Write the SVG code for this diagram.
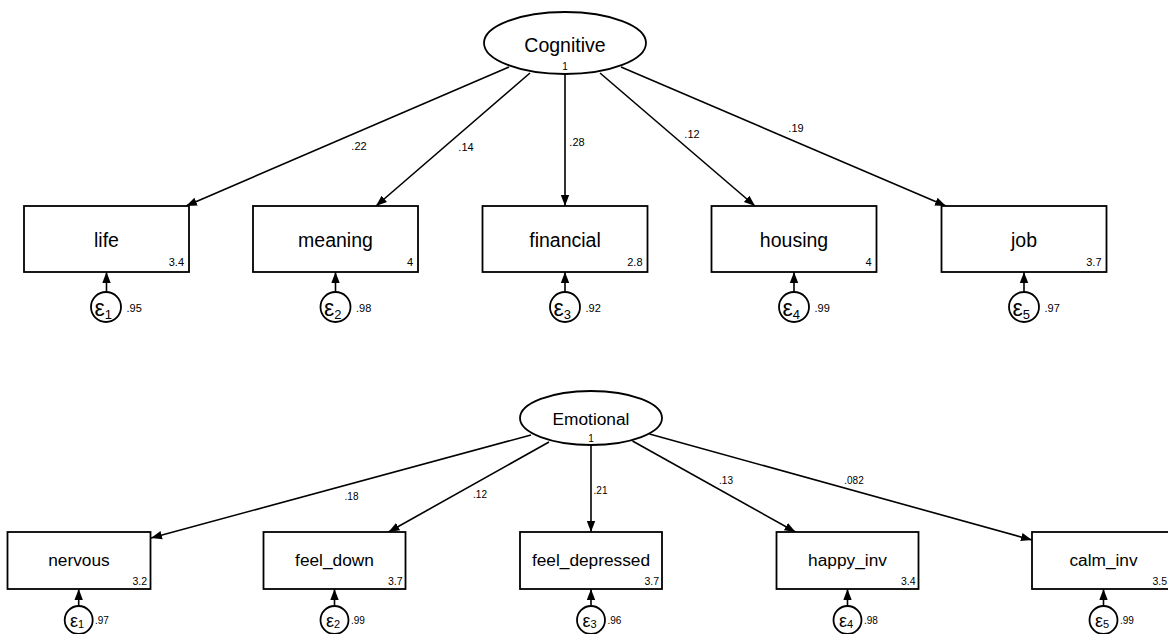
<svg xmlns="http://www.w3.org/2000/svg" width="1168" height="634" viewBox="0 0 1168 634">
<defs>
<marker id="ah" markerUnits="userSpaceOnUse" markerWidth="12" markerHeight="10" viewBox="0 0 12 10" refX="11" refY="5" orient="auto">
<path d="M0,0.8 L11,5 L0,9.2 Z" fill="#000"/>
</marker>
<style>
text{font-family:"Liberation Sans",Arial,sans-serif;fill:#000}
.box{fill:#fff;stroke:#000;stroke-width:1.8}
.lat{fill:#fff;stroke:#000;stroke-width:1.8}
.err{fill:#fff;stroke:#000;stroke-width:1.8}
.c{stroke:#000;stroke-width:1.6;fill:none;marker-end:url(#ah)}
.lt{font-size:19.5px;text-anchor:middle}
.lb{font-size:17.3px;text-anchor:middle}
.vt{font-size:11px;text-anchor:end}
.vb{font-size:10.5px;text-anchor:end}
.pt{font-size:11px;text-anchor:middle}
.pb{font-size:10px;text-anchor:middle}
.et{font-size:23px}
.eb{font-size:18px}
.ev1{font-size:11px}
.ev2{font-size:10px}
</style>
</defs>
<g id="connectors">
<line class="c" x1="509" y1="67" x2="186" y2="206"/>
<line class="c" x1="530" y1="73" x2="376" y2="206"/>
<line class="c" x1="565" y1="74" x2="565" y2="206"/>
<line class="c" x1="600" y1="73" x2="755" y2="206"/>
<line class="c" x1="621" y1="67" x2="946" y2="206"/>
<line class="c" x1="106.5" y1="292" x2="106.5" y2="272"/>
<line class="c" x1="335.5" y1="292" x2="335.5" y2="272"/>
<line class="c" x1="565" y1="292" x2="565" y2="272"/>
<line class="c" x1="794" y1="292" x2="794" y2="272"/>
<line class="c" x1="1024" y1="292" x2="1024" y2="272"/>
<line class="c" x1="531" y1="435" x2="151" y2="538"/>
<line class="c" x1="549" y1="442" x2="388.5" y2="532"/>
<line class="c" x1="591" y1="446" x2="591" y2="532"/>
<line class="c" x1="632.5" y1="441" x2="795.5" y2="532"/>
<line class="c" x1="649.5" y1="434" x2="1032" y2="540"/>
<line class="c" x1="78.7" y1="606" x2="78.7" y2="589"/>
<line class="c" x1="334.5" y1="606" x2="334.5" y2="589"/>
<line class="c" x1="591" y1="606" x2="591" y2="589"/>
<line class="c" x1="847.5" y1="606" x2="847.5" y2="589"/>
<line class="c" x1="1103.5" y1="606" x2="1103.5" y2="589"/>
</g>
<g id="path-labels">
<text class="pt" x="359" y="150">.22</text>
<text class="pt" x="466" y="151">.14</text>
<text class="pt" x="577" y="146">.28</text>
<text class="pt" x="692" y="138">.12</text>
<text class="pt" x="796" y="132">.19</text>
<text class="pb" x="351.5" y="499.5">.18</text>
<text class="pb" x="480" y="497.5">.12</text>
<text class="pb" x="600.5" y="493.5">.21</text>
<text class="pb" x="726" y="483.5">.13</text>
<text class="pb" x="854" y="483.5">.082</text>
</g>
<g id="Cognitive">
<ellipse class="lat" cx="565" cy="43" rx="81" ry="31"/>
<text class="lt" x="565" y="51.5">Cognitive</text>
<text style="font-size:10px;text-anchor:middle" x="565" y="70">1</text>
</g>
<g id="Emotional">
<ellipse class="lat" cx="591" cy="418" rx="71" ry="27"/>
<text class="lb" x="591" y="424.5">Emotional</text>
<text style="font-size:10px;text-anchor:middle" x="591" y="441.5">1</text>
</g>
<g id="life">
<rect class="box" x="24" y="206" width="165" height="66"/>
<text class="lt" x="106.5" y="247">life</text>
<text class="vt" x="184" y="266">3.4</text>
</g>
<g id="meaning">
<rect class="box" x="253" y="206" width="165" height="66"/>
<text class="lt" x="335.5" y="247">meaning</text>
<text class="vt" x="413" y="266">4</text>
</g>
<g id="financial">
<rect class="box" x="482.5" y="206" width="165" height="66"/>
<text class="lt" x="565" y="247">financial</text>
<text class="vt" x="642.5" y="266">2.8</text>
</g>
<g id="housing">
<rect class="box" x="711.5" y="206" width="165" height="66"/>
<text class="lt" x="794" y="247">housing</text>
<text class="vt" x="871.5" y="266">4</text>
</g>
<g id="job">
<rect class="box" x="941.5" y="206" width="165" height="66"/>
<text class="lt" x="1024" y="247">job</text>
<text class="vt" x="1101.5" y="266">3.7</text>
</g>
<g id="e1-top">
<circle class="err" cx="106" cy="307" r="15"/>
<text class="et" x="94.5" y="316">ε<tspan style="font-size:13px" dy="3">1</tspan></text>
<text class="ev1" x="126.5" y="312">.95</text>
</g>
<g id="e2-top">
<circle class="err" cx="335.5" cy="307" r="15"/>
<text class="et" x="324" y="316">ε<tspan style="font-size:13px" dy="3">2</tspan></text>
<text class="ev1" x="356" y="312">.98</text>
</g>
<g id="e3-top">
<circle class="err" cx="565" cy="307" r="15"/>
<text class="et" x="553.5" y="316">ε<tspan style="font-size:13px" dy="3">3</tspan></text>
<text class="ev1" x="585.5" y="312">.92</text>
</g>
<g id="e4-top">
<circle class="err" cx="794" cy="307" r="15"/>
<text class="et" x="782.5" y="316">ε<tspan style="font-size:13px" dy="3">4</tspan></text>
<text class="ev1" x="814.5" y="312">.99</text>
</g>
<g id="e5-top">
<circle class="err" cx="1024" cy="307" r="15"/>
<text class="et" x="1012.5" y="316">ε<tspan style="font-size:13px" dy="3">5</tspan></text>
<text class="ev1" x="1044.5" y="312">.97</text>
</g>
<g id="nervous">
<rect class="box" x="7.5" y="532" width="143" height="57"/>
<text class="lb" x="79" y="566">nervous</text>
<text class="vb" x="147" y="585">3.2</text>
</g>
<g id="feel_down">
<rect class="box" x="263.5" y="532" width="142" height="57"/>
<text class="lb" x="334.5" y="566">feel_down</text>
<text class="vb" x="402.5" y="585">3.7</text>
</g>
<g id="feel_depressed">
<rect class="box" x="520" y="532" width="142" height="57"/>
<text class="lb" x="591" y="566">feel_depressed</text>
<text class="vb" x="659" y="585">3.7</text>
</g>
<g id="happy_inv">
<rect class="box" x="776.5" y="532" width="142" height="57"/>
<text class="lb" x="847.5" y="566">happy_inv</text>
<text class="vb" x="915.5" y="585">3.4</text>
</g>
<g id="calm_inv">
<rect class="box" x="1032" y="532" width="143" height="57"/>
<text class="lb" x="1103.5" y="566">calm_inv</text>
<text class="vb" x="1167" y="585">3.5</text>
</g>
<g id="e1-bottom">
<circle class="err" cx="78.7" cy="620" r="14"/>
<text class="eb" x="70" y="627">ε<tspan style="font-size:11px" dy="1">1</tspan></text>
<text class="ev2" x="95" y="624">.97</text>
</g>
<g id="e2-bottom">
<circle class="err" cx="334.5" cy="620" r="14"/>
<text class="eb" x="326" y="627">ε<tspan style="font-size:11px" dy="1">2</tspan></text>
<text class="ev2" x="351" y="624">.99</text>
</g>
<g id="e3-bottom">
<circle class="err" cx="591" cy="620" r="14"/>
<text class="eb" x="582.5" y="627">ε<tspan style="font-size:11px" dy="1">3</tspan></text>
<text class="ev2" x="607.5" y="624">.96</text>
</g>
<g id="e4-bottom">
<circle class="err" cx="847.5" cy="620" r="14"/>
<text class="eb" x="839" y="627">ε<tspan style="font-size:11px" dy="1">4</tspan></text>
<text class="ev2" x="864" y="624">.98</text>
</g>
<g id="e5-bottom">
<circle class="err" cx="1103.5" cy="620" r="14"/>
<text class="eb" x="1095" y="627">ε<tspan style="font-size:11px" dy="1">5</tspan></text>
<text class="ev2" x="1120" y="624">.99</text>
</g>
</svg>
